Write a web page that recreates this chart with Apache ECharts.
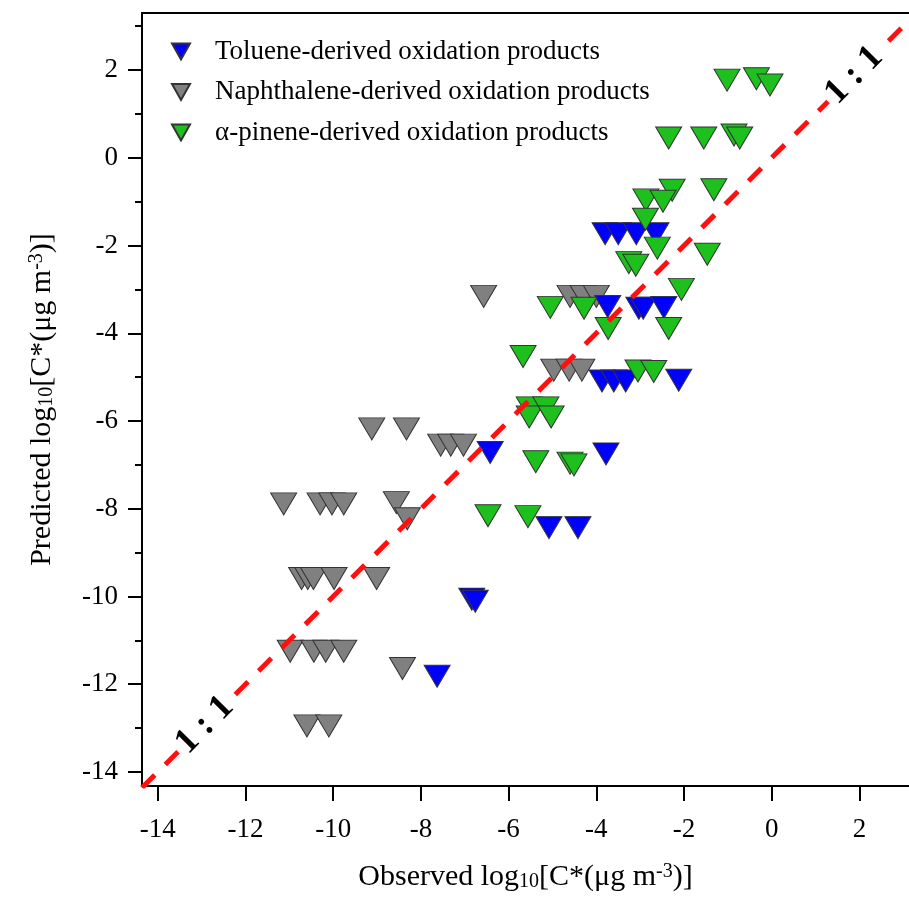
<!DOCTYPE html>
<html>
<head>
<meta charset="utf-8">
<title>Observed vs predicted log10 C*</title>
<script src="https://cdn.jsdelivr.net/npm/echarts@6/dist/echarts.min.js"></script>
<style>
  html, body { margin: 0; padding: 0; background: #fff; }
  #chart { width: 909px; height: 897px; }
</style>
</head>
<body>
<div id="chart"></div>
<script>
// observed (x) and predicted (y) log10 C*
var tolueneObs  = [-3.80, -3.50, -3.09, -2.64, -3.74, -3.03, -2.93, -2.46, -3.87, -3.60, -3.33, -2.12, -6.42, -3.78, -5.08, -4.42, -6.84, -6.76, -7.63];
var toluenePred = [-1.73, -1.73, -1.73, -1.73, -3.39, -3.43, -3.43, -3.41, -5.09, -5.09, -5.09, -5.07, -6.72, -6.75, -8.43, -8.43, -10.06, -10.11, -11.82];

var naphObs  = [-6.57, -4.60, -4.30, -4.00, -4.97, -4.62, -4.33, -9.12, -8.33, -7.55, -7.32, -7.03, -11.13, -10.30, -10.03, -9.76, -8.56, -8.31, -10.72, -10.58, -10.45, -9.98, -9.01, -10.98, -10.44, -10.17, -9.76, -8.42, -10.60, -10.10];
var naphPred = [-3.16, -3.16, -3.16, -3.16, -4.84, -4.84, -4.84, -6.18, -6.18, -6.55, -6.55, -6.55, -7.89, -7.89, -7.89, -7.89, -7.86, -8.23, -9.59, -9.59, -9.59, -9.59, -9.59, -11.25, -11.25, -11.25, -11.25, -11.64, -12.95, -12.95];

var pineneObs  = [-1.02, -0.35, -0.04, -2.35, -1.55, -0.86, -0.73, -2.27, -1.32, -2.87, -2.48, -2.88, -2.61, -1.47, -3.26, -3.10, -2.06, -5.05, -4.28, -3.73, -2.35, -5.67, -3.05, -2.69, -5.53, -5.15, -5.53, -5.03, -5.38, -4.60, -4.51, -6.47, -5.56];
var pinenePred = [1.77, 1.80, 1.66, 0.45, 0.45, 0.52, 0.45, -0.74, -0.73, -0.96, -0.99, -1.40, -2.06, -2.20, -2.39, -2.45, -3.00, -3.41, -3.43, -3.89, -3.89, -4.53, -4.86, -4.87, -5.70, -5.70, -5.91, -5.91, -6.93, -6.96, -7.00, -8.16, -8.18];

var seriesNames = [
  'Toluene-derived oxidation products',
  'Naphthalene-derived oxidation products',
  'α-pinene-derived oxidation products'
];

var xTicks = [-14, -12, -10, -8, -6, -4, -2, 0, 2];
var yTicks = [-14, -12, -10, -8, -6, -4, -2, 0, 2];
var yMinorTicks = [-13, -11, -9, -7, -5, -3, -1, 1, 3];
var xRange = [-14.36, 3.13];
var yRange = [-14.32, 3.30];

// 1:1 reference line and where its two labels sit
var oneToOne = [[-14.36, -14.36], [3.4, 3.4]];
var ratioLabelPos = [[-12.93, -12.93], [1.88, 1.88]];

function pairs(xs, ys) {
  return xs.map(function (x, i) { return [x, ys[i]]; });
}

var FONT = "'Liberation Serif', 'Times New Roman', serif";
var titleRich = {
  sub: { fontFamily: FONT, fontSize: 20, color: '#000', verticalAlign: 'bottom' },
  sup: { fontFamily: FONT, fontSize: 20, color: '#000', verticalAlign: 'top' }
};

function pointSeries(name, data, color) {
  return {
    name: name,
    type: 'scatter',
    data: data,
    symbol: 'triangle',
    symbolRotate: 180,
    symbolSize: [26, 22],
    itemStyle: { color: color, borderColor: '#333', borderWidth: 1, opacity: 1 },
    z: 3
  };
}

var chart = echarts.init(document.getElementById('chart'), null, { renderer: 'canvas' });

chart.setOption({
  animation: false,
  backgroundColor: '#fff',
  grid: { left: 142, top: 13, right: 0, bottom: 111, containLabel: false },
  legend: {
    data: seriesNames,
    orient: 'vertical',
    left: 171,
    top: 38,
    padding: 0,
    itemWidth: 58,
    itemHeight: 16,
    itemGap: 13.5,
    icon: 'path://M0,0 L18,0 L9,16 Z',
    textStyle: { fontFamily: FONT, fontSize: 27, color: '#000', lineHeight: 22 }
  },
  xAxis: [{
    type: 'value',
    min: xRange[0],
    max: xRange[1],
    position: 'bottom',
    name: 'Observed log{sub|10}[C*(μg m{sup|-3})]',
    nameLocation: 'middle',
    nameGap: 76,
    nameTextStyle: { fontFamily: FONT, fontSize: 30, color: '#000', rich: titleRich },
    axisLine: { onZero: false, lineStyle: { color: '#000', width: 2 } },
    axisTick: { customValues: xTicks, length: 15, inside: false, lineStyle: { color: '#000', width: 2 } },
    axisLabel: { customValues: xTicks, margin: 30, fontFamily: FONT, fontSize: 27, color: '#000' },
    splitLine: { show: false }
  }, {
    type: 'value',
    min: xRange[0],
    max: xRange[1],
    position: 'top',
    axisLine: { onZero: false, lineStyle: { color: '#000', width: 2 } },
    axisTick: { show: false },
    axisLabel: { show: false },
    splitLine: { show: false }
  }],
  yAxis: [{
    type: 'value',
    min: yRange[0],
    max: yRange[1],
    position: 'left',
    name: 'Predicted log{sub|10}[C*(μg m{sup|-3})]',
    nameLocation: 'middle',
    nameRotate: 90,
    nameGap: 85,
    nameTextStyle: { fontFamily: FONT, fontSize: 30, color: '#000', rich: titleRich },
    axisLine: { onZero: false, lineStyle: { color: '#000', width: 2 } },
    axisTick: { customValues: yTicks, length: 14, inside: false, lineStyle: { color: '#000', width: 2 } },
    axisLabel: { customValues: yTicks, margin: 24, fontFamily: FONT, fontSize: 27, color: '#000' },
    splitLine: { show: false }
  }, {
    type: 'value',
    min: yRange[0],
    max: yRange[1],
    position: 'left',
    axisLine: { show: false, onZero: false },
    axisTick: { customValues: yMinorTicks, length: 7, inside: false, lineStyle: { color: '#000', width: 2 } },
    axisLabel: { show: false },
    splitLine: { show: false }
  }],
  series: [
    pointSeries(seriesNames[1], pairs(naphObs, naphPred), '#808080'),
    pointSeries(seriesNames[0], pairs(tolueneObs, toluenePred), '#0000ff'),
    pointSeries(seriesNames[2], pairs(pineneObs, pinenePred), '#1ec01e'),
    {
      name: '1:1',
      type: 'line',
      data: oneToOne,
      symbol: 'none',
      clip: true,
      silent: true,
      lineStyle: { color: '#ff1010', width: 5, type: [18, 15] },
      z: 4
    },
    {
      name: 'ratio labels',
      type: 'scatter',
      data: ratioLabelPos,
      symbolSize: 1,
      itemStyle: { color: 'rgba(0,0,0,0)', opacity: 1 },
      silent: true,
      z: 5,
      label: {
        show: true,
        position: 'inside',
        formatter: '1 : 1',
        rotate: 45,
        fontFamily: FONT,
        fontSize: 36,
        fontWeight: 'bold',
        color: '#000',
        backgroundColor: '#fff',
        padding: [0, 4]
      }
    }
  ]
});
</script>
</body>
</html>
